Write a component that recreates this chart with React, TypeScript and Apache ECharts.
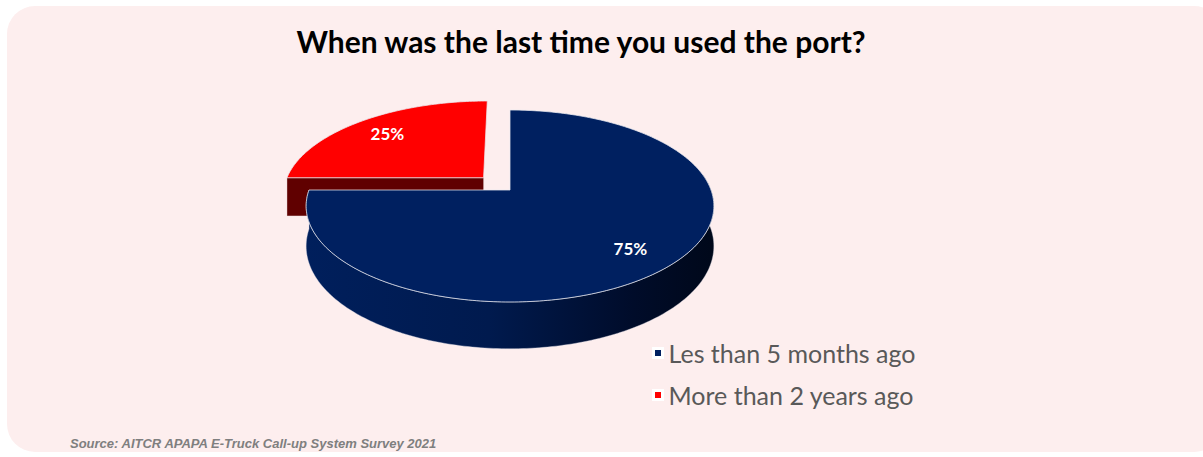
import React, { useEffect, useRef } from 'react';
import * as echarts from 'echarts';

const chartTitle = 'When was the last time you used the port?';
const sourceNote = 'Source: AITCR APAPA E-Truck Call-up System Survey 2021';
const categories = ['Les than 5 months ago', 'More than 2 years ago'];
const values = [75, 25];
const sliceColors = ['#002060', '#ff0000'];
const wallColors = ['#00143e', '#600000'];
const explode = [0, 0.19];

// pseudo-3D pie geometry (like a pie's center / radius options)
const CX = 510;
const CY = 190;
const RX = 201;
const RY = 93.3;
const K = 0.1667;
const DEPTH = 39;
const LABEL_R = 0.77;

function proj(u: number, v: number, z: number): number[] {
  const s = 1 / (1 + K * v);
  return [CX + RX * u * s, CY - RY * v * s + DEPTH * z * s];
}

const total = values.reduce((a, b) => a + b, 0);
const cumulative = values.map((_, i) => values.slice(0, i).reduce((a, b) => a + b, 0));

function renderSlice(params: any, api: any) {
  const val = api.value(0);
  const start = api.value(1);
  const tot = api.value(2);
  const ex = api.value(3);
  const idx = api.value(4);
  const a0 = (start / tot) * Math.PI * 2;
  const a1 = ((start + val) / tot) * Math.PI * 2;
  const mid = (a0 + a1) / 2;
  const ox = ex * Math.sin(mid);
  const oy = ex * Math.cos(mid);
  const P = (phi: number, r: number, z: number) =>
    proj(ox + r * Math.sin(phi), oy + r * Math.cos(phi), z);
  const arc = (from: number, to: number, z: number) => {
    const n = Math.max(2, Math.ceil(Math.abs(to - from) / (Math.PI / 180)));
    const pts: number[][] = [];
    for (let i = 0; i <= n; i++) pts.push(P(from + ((to - from) * i) / n, 1, z));
    return pts;
  };
  const color = api.visual('color');
  const children: any[] = [];
  // radial walls
  const walls: [number, number][] = [
    [a0, a0 - Math.PI / 2],
    [a1, a1 + Math.PI / 2],
  ];
  walls.forEach(([a, n]) => {
    if (Math.cos(n) < -0.05) {
      children.push({
        type: 'polygon',
        shape: { points: [P(a, 0, 0), P(a, 1, 0), P(a, 1, 1), P(a, 0, 1)] },
        style: { fill: wallColors[idx], stroke: 'rgba(230,220,220,0.5)', lineWidth: 0.8 },
      });
    }
  });
  // outer side (front half only)
  const lo = Math.max(a0, (80 * Math.PI) / 180);
  const hi = Math.min(a1, (270 * Math.PI) / 180);
  if (hi - lo > 0.01) {
    const pts = arc(lo, hi, 0).concat(arc(hi, lo, 1));
    children.push({
      type: 'polygon',
      shape: { points: pts },
      style: {
        fill: new echarts.graphic.LinearGradient(0, 0, 1, 0, [
          { offset: 0, color: idx === 0 ? '#001f5c' : '#700000' },
          { offset: 0.45, color: idx === 0 ? '#001a4e' : '#600000' },
          { offset: 0.8, color: idx === 0 ? '#000c2a' : '#400000' },
          { offset: 1, color: idx === 0 ? '#00081a' : '#300000' },
        ]),
        stroke: 'rgba(220,220,230,0.5)',
        lineWidth: 0.8,
      },
    });
  }
  // top face
  const top = [P(a0, 0, 0)].concat(arc(a0, a1, 0));
  children.push({
    type: 'polygon',
    shape: { points: top },
    style: { fill: color, stroke: 'rgba(235,235,240,0.75)', lineWidth: 1 },
  });
  const lp = P(mid, LABEL_R, 0);
  children.push({
    type: 'text',
    x: lp[0],
    y: lp[1] + (idx === 0 ? 3 : 0),
    style: {
      text: Math.round((val / tot) * 100) + '%',
      fill: '#ffffff',
      font: 'bold 17px Lato, "Open Sans", sans-serif',
      align: 'center',
      verticalAlign: 'middle',
    },
  });
  return { type: 'group', children };
}

export default function App() {
  const ref = useRef<HTMLDivElement>(null);
  useEffect(() => {
    if (!ref.current) return;
    const chart = echarts.init(ref.current, undefined, { renderer: 'svg' });
    const option: any = {
      animation: false,
      backgroundColor: '#ffffff',
      title: {
        text: chartTitle,
        left: 576,
        top: 21,
        textAlign: 'center',
        textStyle: { fontFamily: 'Lato', fontWeight: 'bold', fontSize: 30, color: '#000000' },
      },
      graphic: [
        {
          type: 'rect',
          z: -10,
          shape: { x: 7, y: 6, width: 1215, height: 446, r: 28 },
          style: { fill: '#fdeeee' },
        },
        {
          type: 'text',
          z: 10,
          x: 70,
          y: 443,
          style: {
            text: sourceNote,
            fill: '#7f7f7f',
            font: 'italic bold 13px "Liberation Sans", Arial, sans-serif',
            verticalAlign: 'middle',
          },
        },
      ],
      legend: {
        orient: 'vertical',
        left: 647,
        top: 333,
        icon: 'rect',
        itemWidth: 9,
        itemHeight: 9,
        itemGap: 12,
        textStyle: {
          fontFamily: 'Lato',
          fontSize: 25,
          color: '#595959',
          lineHeight: 30,
          padding: [0, 0, 0, 1],
        },
        data: categories.map((name, i) => ({
          name,
          itemStyle: { color: sliceColors[i], borderColor: '#ffffff', borderWidth: 3 },
        })),
      },
      series: categories.map((name, i) => ({
        type: 'custom',
        name,
        coordinateSystem: 'none',
        z: i === 0 ? 3 : 2,
        itemStyle: { color: sliceColors[i] },
        data: [[values[i], cumulative[i], total, explode[i], i]],
        renderItem: renderSlice,
      })),
    };
    chart.setOption(option);
    return () => chart.dispose();
  }, []);
  return (
    <div
      ref={ref}
      style={{ position: 'fixed', left: 0, top: 0, width: 1203, height: 457 }}
    />
  );
}
